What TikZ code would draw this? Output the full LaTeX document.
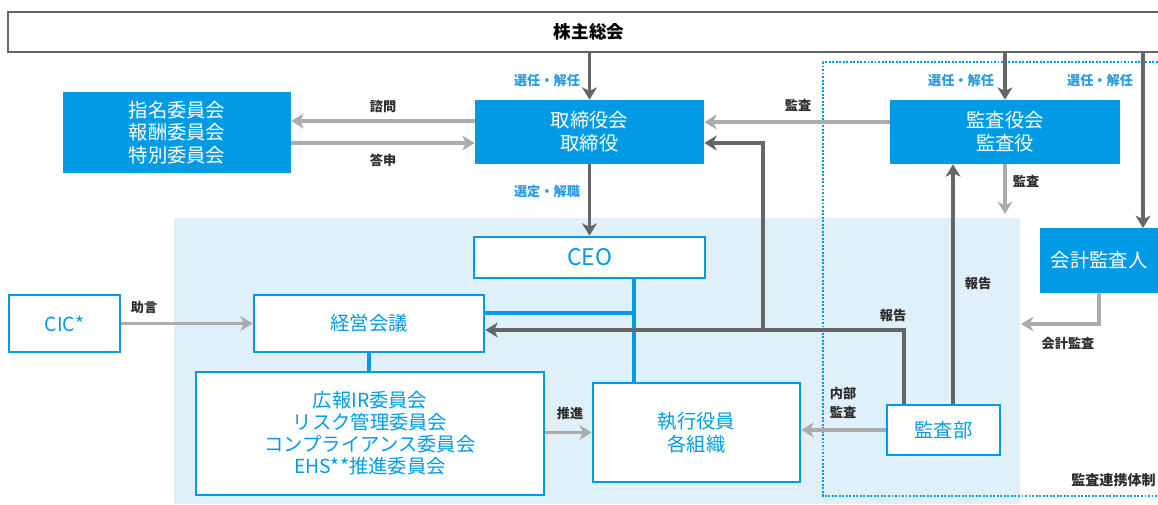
\documentclass[tikz,border=0pt]{standalone}
\usepackage{fontspec}
\setmainfont{Noto Sans CJK JP}
\usepackage{tikz}
\usetikzlibrary{positioning, calc, arrows.meta}
\definecolor{kblue}{RGB}{0,155,228}
\definecolor{kpale}{RGB}{223,240,250}
\definecolor{kdark}{RGB}{102,102,102}
\definecolor{klight}{RGB}{172,172,172}
\definecolor{ktext}{RGB}{45,45,45}
\definecolor{klab}{RGB}{40,155,225}

\begin{document}
\begin{tikzpicture}[x=0.02cm, y=-0.02cm,
	fillbox/.style={fill=kblue, text=white, align=center, inner sep=0pt, font=\fontsize{11}{13}\selectfont},
	linebox/.style={draw=kblue, fill=white, line width=1.6pt, text=kblue, align=center, inner sep=0pt, font=\fontsize{11}{13}\selectfont},
	darkarr/.style={draw=kdark, line width=2.2pt, -{Stealth[length=7pt,width=8.5pt,inset=2pt]}},
	lightarr/.style={draw=klight, line width=2.2pt, -{Stealth[length=7pt,width=8.5pt,inset=2pt]}},
	bluelink/.style={draw=kblue, line width=2.2pt},
	lab/.style={text=ktext, font=\fontsize{7.5}{11}\selectfont\bfseries, align=center, inner sep=0pt},
	bluelab/.style={text=klab, font=\fontsize{7.5}{9.5}\selectfont\bfseries, inner sep=0pt}]
		\useasboundingbox (0,0) rectangle (1158,504);
		\fill[kpale] (174,218) rectangle (1020,504);
		\draw[kblue, line width=1.4pt, dash pattern=on 1.1pt off 0.9pt] (823,62) rectangle (1180,496);
		
		\node[draw=kdark, line width=1.4pt, fill=white, minimum width=23.24cm, minimum height=0.8cm, inner sep=0pt, font=\fontsize{10}{12}\selectfont\bfseries] (share) at (589,32) {株主総会};
		
		\node[fillbox, minimum width=4.56cm, minimum height=1.62cm] (nomi) at (177,132.5) {指名委員会\\報酬委員会\\特別委員会};
		\node[fillbox, minimum width=4.58cm, minimum height=1.28cm] (board) at (589.5,132) {取締役会\\取締役};
		\node[fillbox, minimum width=4.6cm, minimum height=1.28cm] (kansa) at (1005,132) {監査役会\\監査役};
		\node[fillbox, minimum width=2.36cm, minimum height=1.3cm] (accnt) at (1099,260.5) {会計監査人};
		
		\node[linebox, minimum width=4.62cm, minimum height=0.82cm, font=\fontsize{13}{15}\selectfont] (ceo) at (589.5,257.5) {CEO};
		\node[linebox, minimum width=2.22cm, minimum height=1.14cm] (cic) at (64.5,323.5) {CIC*};
		\node[linebox, minimum width=4.6cm, minimum height=1.14cm] (mgmt) at (369,323.5) {経営会議};
		\node[linebox, minimum width=6.96cm, minimum height=2.46cm, font=\fontsize{11}{12.5}\selectfont] (comm) at (370,433.5) {広報IR委員会\\リスク管理委員会\\コンプライアンス委員会\\EHS**推進委員会};
		\node[linebox, minimum width=4.14cm, minimum height=1.98cm] (exec) at (696.5,432.5) {執行役員\\各組織};
		\node[linebox, minimum width=2.26cm, minimum height=1cm] (audit) at (943.5,430) {監査部};
		
		\coordinate (gp) at (1143,228);
		\coordinate (kb) at (1005,214);
		\coordinate (jn) at (634,313);
		\coordinate (rp) at (904,330);
		\coordinate (bp) at (763,143);
		\coordinate (up) at (953,405);
		\coordinate (ac) at (1021,324);
		
		\draw[darkarr] (share.south -| board.north) -- (board.north);
		\draw[darkarr] (share.south -| kansa.north) -- (kansa.north);
		\draw[darkarr] (share.south -| gp) -- (gp);
		\draw[lightarr] ($(board.west)+(0,-11)$) coordinate (q1) -- (nomi.east |- q1);
		\draw[lightarr] ($(nomi.east)+(0,10.5)$) coordinate (q2) -- (board.west |- q2);
		\draw[lightarr] ($(kansa.west)+(0,-10)$) coordinate (q3) -- (board.east |- q3);
		\draw[darkarr] (board.south) -- (ceo.north);
		\draw[lightarr] (kansa.south) -- (kb);
		\draw[lightarr] (cic.east) -- (mgmt.west);
		\draw[bluelink] (mgmt.south) -- (mgmt.south |- comm.north);
		\draw[bluelink] (ceo.south -| jn) -- (exec.north -| jn);
		\draw[bluelink] (mgmt.east |- jn) -- (jn);
		\draw[lightarr] (comm.east |- exec.west) -- (exec.west);
		\draw[lightarr] (audit.west) -- (exec.east |- audit.west);
		\draw[darkarr] (audit.north -| rp) -- (rp) -- (mgmt.east |- rp);
		\draw[darkarr] (bp |- rp) -- (bp) -- (board.east |- bp);
		\draw[darkarr] (audit.north -| up) -- (kansa.south -| up);
		\draw[lightarr] (accnt.south) |- (ac);
		
		\foreach \x [count=\i] in {547,961,1100}
			\node[bluelab] (sel\i) at (\x,80) {選任・解任};
		\node[bluelab] (selceo) at (547,192) {選定・解職};
		\node[lab] (shimon) at (383,106) {諮問};
		\node[lab] (toshin) at (383,160) {答申};
		\node[lab] (kansa1) at (798,105) {監査};
		\node[lab] (kansa2) at (1026,181) {監査};
		\node[lab] (hokoku1) at (978,283) {報告};
		\node[lab] (hokoku2) at (893,315) {報告};
		\node[lab] (naibu) at (843,403) {内部\\監査};
		\node[lab] (suishin) at (570,413) {推進};
		\node[lab] (jogen) at (144,307) {助言};
		\node[lab] (kaikei) at (1068,343) {会計監査};
		\node[lab, anchor=east, font=\fontsize{8}{11}\selectfont\bfseries] (renkei) at (1156,480) {監査連携体制};
\end{tikzpicture}
\end{document}
